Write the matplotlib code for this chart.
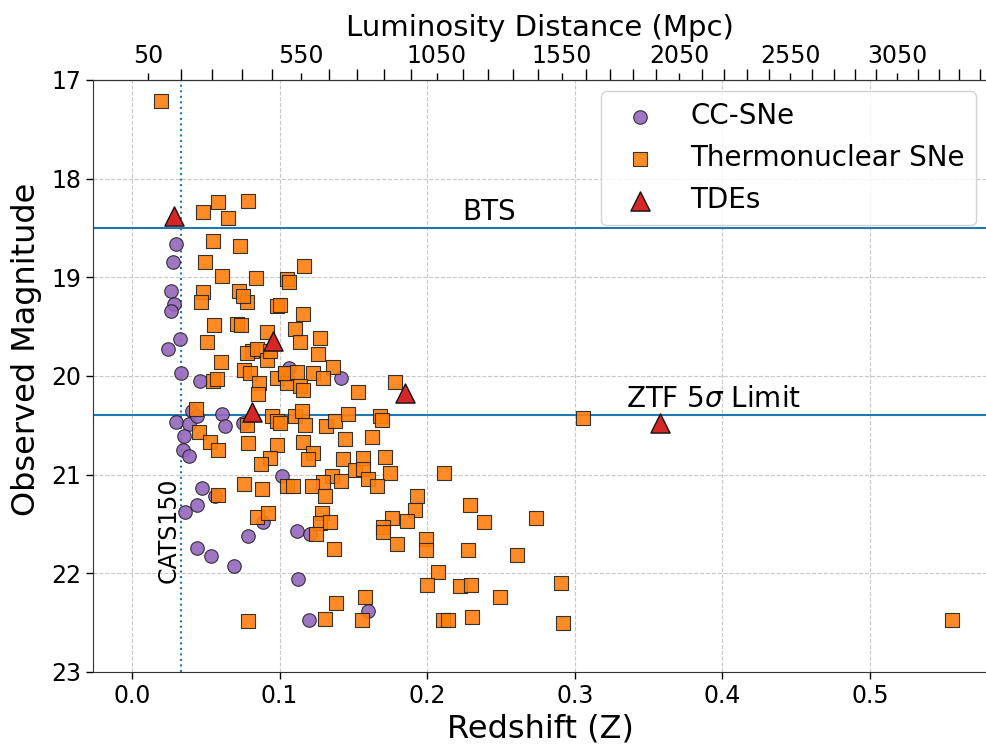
import numpy as np
import matplotlib
matplotlib.use("Agg")
import matplotlib.pyplot as plt

# core-collapse supernovae: redshift, observed peak magnitude
cc_z = [0.0298, 0.0280, 0.0264, 0.0285, 0.0264, 0.0323, 0.0242, 0.0330, 0.0461, 0.0404,
        0.0298, 0.0386, 0.0354, 0.0612, 0.0632, 0.0343, 0.0386, 0.0754, 0.0472, 0.0562,
        0.0442, 0.0359, 0.0885, 0.0784, 0.0438, 0.0533, 0.0693, 0.1014, 0.1116, 0.1206,
        0.1127, 0.1201, 0.1601, 0.1416, 0.1066, 0.0438]
cc_mag = [18.66, 18.84, 19.14, 19.27, 19.34, 19.63, 19.73, 19.97, 20.05, 20.35,
          20.47, 20.49, 20.61, 20.39, 20.51, 20.75, 20.81, 20.48, 21.14, 21.22,
          21.31, 21.38, 21.48, 21.62, 21.74, 21.82, 21.93, 21.01, 21.57, 21.60,
          22.06, 22.47, 22.38, 20.02, 19.92, 20.41]

# thermonuclear supernovae
ia_z = [0.0196, 0.0483, 0.0585, 0.0788, 0.0648, 0.0551, 0.0734, 0.0495, 0.0612, 0.0838,
        0.1048, 0.0483, 0.0467, 0.0725, 0.0777, 0.0752, 0.0984, 0.0558, 0.0709, 0.0738,
        0.0912, 0.0506, 0.0813, 0.0777, 0.0845, 0.0912, 0.0935, 0.0603, 0.0761, 0.0799,
        0.0551, 0.0574, 0.0862, 0.0980, 0.1037, 0.1048, 0.0856, 0.0434, 0.0946, 0.0980,
        0.0777, 0.0456, 0.0528, 0.0581, 0.0784, 0.0980, 0.0935, 0.0874, 0.0585, 0.0761,
        0.0883, 0.0845, 0.0919, 0.0788, 0.1048,
        0.1165, 0.1066, 0.1003, 0.1160, 0.1104, 0.1138, 0.1274, 0.1258, 0.1037, 0.1116,
        0.1228, 0.1364, 0.1296, 0.1138, 0.1160, 0.1532, 0.1782,
        0.1104, 0.1150, 0.1003, 0.1172, 0.1318, 0.1374, 0.1464, 0.1680, 0.1692, 0.1443,
        0.1623, 0.1157, 0.1228, 0.1194, 0.1431, 0.1511, 0.1567, 0.1567, 0.1714, 0.1748,
        0.1601, 0.1658, 0.1353, 0.1416, 0.1296, 0.1217, 0.1093, 0.1308, 0.1285, 0.1274,
        0.1341, 0.1247, 0.1371, 0.1929, 0.1917, 0.1764, 0.1861, 0.1703, 0.1699, 0.1793,
        0.1992, 0.1990, 0.2116, 0.2290, 0.2274, 0.2075, 0.1997, 0.2222, 0.2295, 0.1380,
        0.1579, 0.1308, 0.1556, 0.2105, 0.2139, 0.2302,
        0.3058, 0.2387, 0.2737, 0.2610, 0.2493, 0.2907, 0.2923, 0.5556]
ia_mag = [17.21, 18.34, 18.24, 18.23, 18.40, 18.63, 18.68, 18.84, 18.99, 19.01,
          19.02, 19.15, 19.25, 19.14, 19.25, 19.19, 19.29, 19.48, 19.47, 19.48,
          19.55, 19.66, 19.75, 19.77, 19.73, 19.84, 19.75, 19.86, 19.94, 19.97,
          20.05, 20.03, 20.07, 20.02, 19.98, 20.07, 20.18, 20.33, 20.41, 20.46,
          20.50, 20.57, 20.67, 20.75, 20.68, 20.70, 20.83, 20.89, 21.21, 21.09,
          21.15, 21.43, 21.39, 22.48, 21.11,
          18.89, 19.05, 19.28, 19.37, 19.52, 19.66, 19.62, 19.78, 19.97, 19.96,
          19.97, 19.91, 20.02, 20.10, 20.14, 20.16, 20.06,
          20.41, 20.35, 20.48, 20.50, 20.51, 20.46, 20.39, 20.41, 20.45, 20.64,
          20.62, 20.67, 20.78, 20.84, 20.84, 20.95, 20.83, 20.94, 20.82, 20.98,
          21.04, 21.12, 21.01, 21.06, 21.07, 21.11, 21.12, 21.22, 21.39, 21.49,
          21.48, 21.60, 21.75, 21.22, 21.36, 21.44, 21.47, 21.53, 21.58, 21.70,
          21.65, 21.76, 20.98, 21.31, 21.76, 21.99, 22.12, 22.13, 22.12, 22.30,
          22.24, 22.46, 22.47, 22.47, 22.47, 22.44,
          20.43, 21.48, 21.44, 21.81, 22.24, 22.10, 22.50, 22.47]

# tidal disruption events
tde_z = [0.0285, 0.0955, 0.0811, 0.1850, 0.3577]
tde_mag = [18.38, 19.65, 20.37, 20.17, 20.48]

bts_limit = 18.5
ztf_limit = 20.4
cats_dist = 150  # Mpc

# flat LCDM (Planck 2018) luminosity distance for the top axis
H0, Om = 67.66, 0.30966
D_H = 299792.458 / H0
zg = np.linspace(-0.1, 1.5, 6401)
inv_E = 1.0 / np.sqrt(Om * (1 + zg) ** 3 + (1 - Om))
Dc = np.concatenate([[0], np.cumsum(0.5 * (inv_E[1:] + inv_E[:-1]) * np.diff(zg))])
Dc = D_H * (Dc - np.interp(0.0, zg, Dc))
dl_grid = (1 + zg) * Dc


def z2dl(z):
    return np.interp(z, zg, dl_grid)


def dl2z(d):
    return np.interp(d, dl_grid, zg)


fig = plt.figure(figsize=(9.87, 7.46), dpi=100)
ax = fig.add_axes([0.0942, 0.0992, 0.9058, 0.7936])

ax.grid(True, color='#c8c8c8', linestyle='--', linewidth=0.8)
ax.set_axisbelow(True)

ax.axhline(bts_limit, color='tab:blue', lw=1.5, zorder=2)
ax.axhline(ztf_limit, color='tab:blue', lw=1.5, zorder=2)
z_cats = float(dl2z(cats_dist))
ax.axvline(z_cats, color='tab:blue', ls=':', lw=1.5, zorder=2)

ax.scatter(cc_z, cc_mag, marker='o', s=95, color='tab:purple', edgecolor='#222222',
           linewidth=0.8, alpha=0.9, zorder=3, label='CC-SNe')
ax.scatter(ia_z, ia_mag, marker='s', s=90, color='tab:orange', edgecolor='#222222',
           linewidth=0.8, alpha=0.9, zorder=4, label='Thermonuclear SNe')
ax.scatter(tde_z, tde_mag, marker='^', s=190, color='tab:red', edgecolor='#111111',
           linewidth=1.0, zorder=5, label='TDEs')

ax.text(0.2235, bts_limit - 0.02, 'BTS', fontsize=20, va='bottom', ha='left')
ax.text(0.3345, ztf_limit - 0.02, r'ZTF 5$\sigma$ Limit', fontsize=20, va='bottom', ha='left')
ax.text(z_cats - 0.0085, 21.56, 'CATS150', fontsize=17, rotation=90, ha='center', va='center')

ax.set_xlim(-0.0264, 0.5793)
ax.set_ylim(23, 17)
ax.set_xticks([0.0, 0.1, 0.2, 0.3, 0.4, 0.5])
ax.set_yticks([17, 18, 19, 20, 21, 22, 23])
ax.tick_params(axis='both', labelsize=17, length=5, width=1.0)
ax.set_xlabel('Redshift (Z)', fontsize=23, labelpad=4)
ax.set_ylabel('Observed Magnitude', fontsize=23)
ax.yaxis.set_label_coords(-0.057, 0.545)
ax.spines['right'].set_visible(False)
for sp in ('left', 'bottom', 'top'):
    ax.spines[sp].set_color('#333333')

top = ax.secondary_xaxis('top', functions=(z2dl, dl2z))
major_d = np.arange(50, 3051, 500)
minor_d = [d for d in np.arange(150, 3600, 100) if d not in major_d]
top.set_xticks(major_d)
top.set_xticklabels([str(d) for d in major_d])
top.set_xticks(minor_d, minor=True)
top.tick_params(axis='x', which='major', labelsize=17, length=5, width=1.0)
top.tick_params(axis='x', which='minor', length=8, width=1.0)
top.set_xlabel('Luminosity Distance (Mpc)', fontsize=21, labelpad=6)

leg = ax.legend(loc='upper right', fontsize=20, framealpha=0.85, borderaxespad=0.4)

fig.savefig('out.png', dpi=100)
